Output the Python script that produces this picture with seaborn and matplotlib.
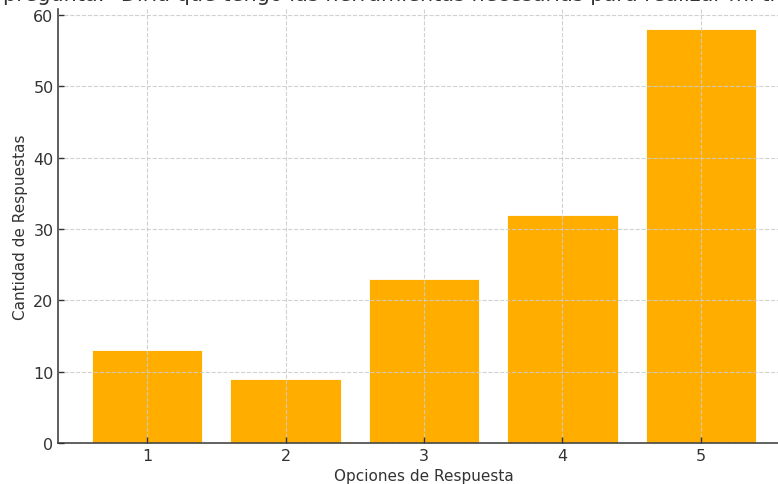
import matplotlib
matplotlib.use("Agg")
import matplotlib.pyplot as plt
import seaborn as sns
import pandas as pd

# Response counts per answer option
opciones = [1, 2, 3, 4, 5]
respuestas = [13, 9, 23, 32, 58]

titulo = ('Distribución de respuestas a la\n'
          'pregunta: "Diría que tengo las herramientas necesarias para realizar mi trabajo"')

sns.set_style("whitegrid", {
    "grid.color": "#cfcfcf",
    "grid.linestyle": "--",
    "axes.edgecolor": "#444444",
    "axes.labelcolor": "#333333",
    "xtick.color": "#333333",
    "ytick.color": "#333333",
    "text.color": "#333333",
})
plt.rcParams["font.family"] = ["DejaVu Sans"]

df = pd.DataFrame({"Opción": opciones, "Respuestas": respuestas})

fig = plt.figure(figsize=(7.78, 4.85), dpi=100)
W, H = 778, 485
left, right, top, bottom = 58.4, 789.6, 9.6, 444
ax = fig.add_axes([left / W, (H - bottom) / H, (right - left) / W, (bottom - top) / H])

ax.bar(df["Opción"], df["Respuestas"], color="#FFAE00", width=0.8,
       edgecolor="white", linewidth=0.6)
ax.set_axisbelow(False)
ax.grid(True, linestyle="--", color="#cccccc", linewidth=0.8, alpha=0.9)
ax.margins(x=0.05, y=0.05)

ax.set_xticks(opciones)
ax.set_xlabel("Opciones de Respuesta", fontsize=11)
ax.set_ylabel("Cantidad de Respuestas", fontsize=11)
ax.set_title(titulo, fontsize=15)
ax.tick_params(axis="both", direction="in", length=4, width=1, labelsize=11.5,
               left=True, bottom=True)

for s in ["top", "right"]:
    ax.spines[s].set_visible(False)
for s in ["left", "bottom"]:
    ax.spines[s].set_linewidth(1.2)
    ax.spines[s].set_color("#444444")

fig.savefig("out.png", dpi=100)
